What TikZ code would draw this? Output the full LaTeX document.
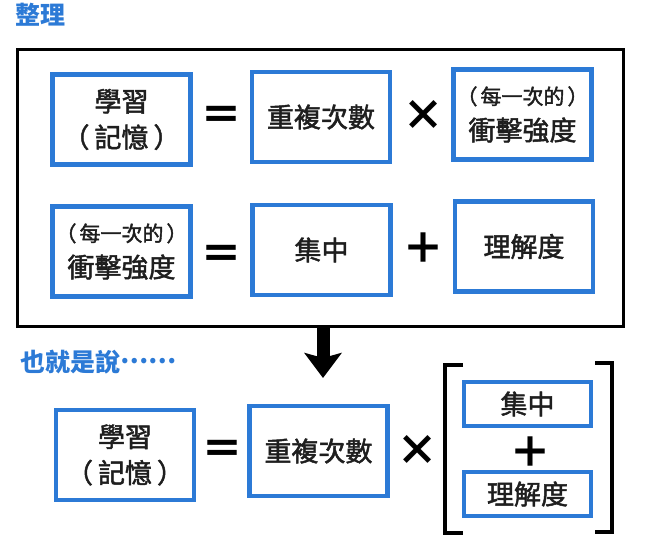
\documentclass[tikz,border=0pt]{standalone}
\usepackage{fontspec}
\setmainfont{Noto Sans CJK TC}
\newfontfamily\boxfont{Noto Sans CJK TC}[FakeBold=1.8]
\usetikzlibrary{arrows.meta, positioning}
\definecolor{cjblue}{HTML}{2C7AD6}
\definecolor{inkblk}{HTML}{1E1E1E}

\begin{document}
\begin{tikzpicture}[
  x=1pt, y=-1pt,
  >={Stealth[length=25pt, width=37pt, inset=5pt]},
  bluebox/.style={draw=cjblue, line width=4.5pt, align=center, inner sep=0pt,
    minimum width=138pt, minimum height=90pt, text=inkblk,
    font=\boxfont\fontsize{27}{36}\selectfont},
  slimbox/.style={bluebox, minimum width=127pt, minimum height=44pt},
  opsym/.style={font=\fontsize{42}{42}\selectfont\bfseries, text=black, inner sep=0pt},
  heading/.style={font=\fontsize{25}{25}\selectfont\bfseries, text=cjblue, inner sep=0pt},
]

% Page
\useasboundingbox (0,0) rectangle (654,540);

% Headings
\node[heading, anchor=west] (title) at (15,15) {整理};
\node[heading, anchor=west] (sowhat) at (20,362) {也就是說\raisebox{0.33em}{……}};

% === Summary frame ===
\node[draw, line width=3pt, inner sep=0pt,
  minimum width=606pt, minimum height=277pt] (frame) at (320.5,188) {};

% Row 1
\node[bluebox] (learn) at (121.5,119.5) {學習\\（\hspace{5pt}記憶\hspace{5pt}）};
\node[opsym] (eqA) at (221,118) {＝};
\node[bluebox] (repeat) at (321,117) {重複次數};
\node[opsym] (timesA) at (423,115) {×};
\node[bluebox] (impact) at (522.5,114.5)
  {{\fontsize{21}{36}\selectfont （\hspace{3pt}每一次的\hspace{3pt}）}\\衝擊強度};

% Row 2
\node[bluebox] (impactB) at (121.5,251.5)
  {{\fontsize{21}{36}\selectfont （\hspace{3pt}每一次的\hspace{3pt}）}\\衝擊強度};
\node[opsym] (eqB) at (221,257) {＝};
\node[bluebox] (focus) at (321.5,250) {集中};
\node[opsym] (plusB) at (423,248) {＋};
\node[bluebox] (grasp) at (524,246.5) {理解度};

% === Arrow down ===
\coordinate (arrowtip) at (323,378);
\draw[->, line width=13pt] (frame.south -| arrowtip) -- (arrowtip);

% === Result row ===
\node[bluebox] (learnC) at (125,455) {學習\\（\hspace{5pt}記憶\hspace{5pt}）};
\node[opsym] (eqC) at (222,452) {＝};
\node[bluebox] (repeatC) at (318.5,451) {重複次數};
\node[opsym] (timesC) at (417,450) {×};
\node[slimbox] (focusC) at (527.5,404) {集中};
\node[opsym] (plusC) at (530,452) {＋};
\node[slimbox] (graspC) at (527.5,494) {理解度};

% Brackets
\draw[line width=4pt] (463,365) -| (445,533) -- (463,533);
\draw[line width=4pt] (595,363) -| (612,532) -- (595,532);

\end{tikzpicture}
\end{document}
